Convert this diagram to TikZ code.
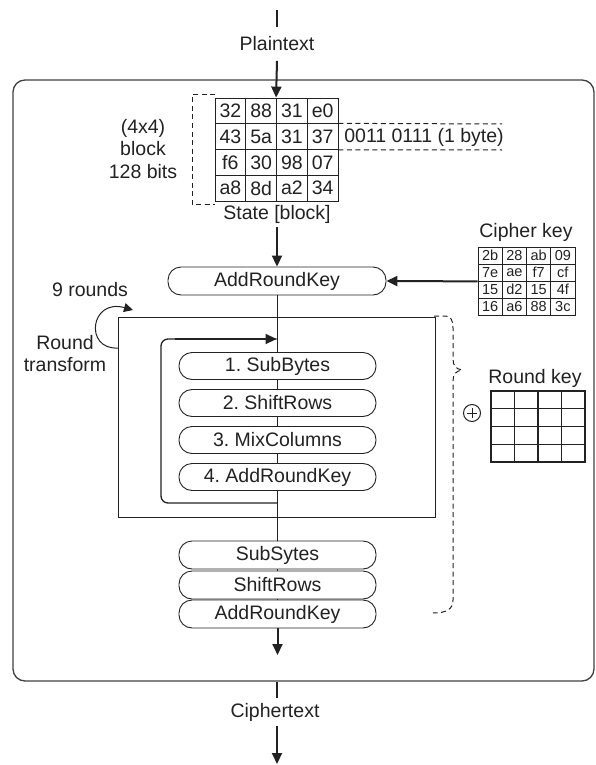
\documentclass[tikz,border=0pt]{standalone}
\usepackage{fontspec}
\setmainfont{Liberation Sans}
\usetikzlibrary{arrows.meta}
\definecolor{ink}{HTML}{222222}
\frenchspacing
\begin{document}
\begin{tikzpicture}[x=1pt,y=-1pt,
  txt/.style={font=\fontsize{19.5}{22.5}\selectfont, text=ink, inner sep=0pt, align=center},
  stepbox/.style={draw=ink, rounded corners=13pt, minimum width=197pt, minimum height=27pt, inner sep=0pt, font=\fontsize{19.5}{22}\selectfont, text=ink, line width=0.9pt},
  scell/.style={draw=ink, minimum width=30.75pt, minimum height=25.75pt, inner sep=0pt, font=\fontsize{19.5}{22}\selectfont, text=ink, line width=0.8pt},
  kcell/.style={draw=ink, minimum width=24.25pt, minimum height=17pt, inner sep=0pt, font=\fontsize{14.5}{15}\selectfont, text=ink, line width=0.8pt},
  rcell/.style={draw=ink, minimum width=23.5pt, minimum height=17.75pt, inner sep=0pt, line width=1.1pt},
  arr/.style={-{Triangle[width=10pt,length=11pt]}, line width=2pt, draw=ink},
  link/.style={line width=1pt, draw=ink},
  dashln/.style={dashed, dash pattern=on 5pt off 3.5pt, line width=1pt, draw=ink},
]
\useasboundingbox (0,0) rectangle (596,765);

% outer frame
\node[draw=black!75, line width=1.3pt, rounded corners=12pt, minimum width=581pt, minimum height=601pt, inner sep=0pt] (outer) at (303.5,380.5) {};

% plaintext
\coordinate (pt0) at (277,10);
\node[txt, inner ysep=9.5pt] (plain) at (277,44) {Plaintext};
\draw[line width=2.6pt, draw=ink] (pt0) -- (plain.north);

% state grid
\foreach \v [count=\c] in {32,88,31,e0} \node[scell] (s-1-\c) at ({215+(\c-0.5)*30.75},{98+0.5*25.75}) {\v};
\foreach \v [count=\c] in {43,5a,31,37} \node[scell] (s-2-\c) at ({215+(\c-0.5)*30.75},{98+1.5*25.75}) {\v};
\foreach \v [count=\c] in {f6,30,98,07} \node[scell] (s-3-\c) at ({215+(\c-0.5)*30.75},{98+2.5*25.75}) {\v};
\foreach \v [count=\c] in {a8,8d,a2,34} \node[scell] (s-4-\c) at ({215+(\c-0.5)*30.75},{98+3.5*25.75}) {\v};
\draw[arr] (plain.south) -- (s-1-3.north west);

% left bracket and label
\coordinate (lb1) at (215,95);
\coordinate (lb2) at (192,95);
\coordinate (lb3) at (192,204);
\coordinate (lb4) at (215,204);
\draw[dashln] (lb1) -- (lb2) -- (lb3) -- (lb4);
\node[txt] (blk) at (143,149) {(4x4)\\block\\128 bits};

% byte bracket
\coordinate (bb1) at (502,124);
\coordinate (bb2) at (502,150);
\draw[dashln] (s-2-4.north east) -- (bb1);
\draw[dashln] (s-2-4.south east) -- (bb2);
\node[txt] (byte) at (424,137) {0011 0111 (1 byte)};

\node[txt, inner ysep=4pt] (statelbl) at (277,214) {State [block]};

% first AddRoundKey
\node[stepbox, minimum width=218pt, minimum height=28pt] (ark) at (277,281) {AddRoundKey};
\draw[arr] (statelbl.south -| ark.north) -- (ark.north);

% cipher key
\node[txt] (cklbl) at (526,232) {Cipher key};
\foreach \v [count=\c] in {2b,28,ab,09} \node[kcell] (k-1-\c) at ({478+(\c-0.5)*24.25},{247+0.5*17}) {\v};
\foreach \v [count=\c] in {7e,ae,f7,cf} \node[kcell] (k-2-\c) at ({478+(\c-0.5)*24.25},{247+1.5*17}) {\v};
\foreach \v [count=\c] in {15,d2,15,4f} \node[kcell] (k-3-\c) at ({478+(\c-0.5)*24.25},{247+2.5*17}) {\v};
\foreach \v [count=\c] in {16,a6,88,3c} \node[kcell] (k-4-\c) at ({478+(\c-0.5)*24.25},{247+3.5*17}) {\v};
\draw[arr] (k-2-1.south west) -- (ark.east);

% round loop box
\node[draw=ink, line width=1pt, minimum width=317pt, minimum height=200pt, inner sep=0pt] (loop) at (276.5,417) {};
\node[txt] (nine) at (90,290) {9 rounds};
\node[txt] (rt) at (65,353.5) {Round\\transform};
\coordinate (la) at (118,348);
\coordinate (lb) at (133,310);
\draw[-{Triangle[width=9pt,length=9pt]}, line width=1pt, draw=ink] (la) .. controls (84,350) and (90,298) .. (lb);

% steps
\node[stepbox] (b1) at (277.5,366) {1. SubBytes};
\node[stepbox] (b2) at (277.5,403) {2. ShiftRows};
\node[stepbox] (b3) at (277.5,440) {3. MixColumns};
\node[stepbox] (b4) at (277.5,477) {4. AddRoundKey};

\node[stepbox, minimum height=28pt] (f1) at (277.5,555) {SubSytes};
\node[stepbox, minimum height=28pt] (f2) at (277.5,585) {ShiftRows};
\node[stepbox, minimum height=28pt] (f3) at (277.5,614) {AddRoundKey};

\draw[link] (ark.south -| b1.north) -- (b1.north);
\draw[link] (b1) -- (b2);
\draw[link] (b2) -- (b3);
\draw[link] (b3) -- (b4);
\draw[link] (b4.south) -- (f1.north);
\draw[link] (f1) -- (f2);
\draw[link] (f2) -- (f3);
\coordinate (fend) at (277.5,655);
\draw[arr] (f3.south) -- (fend);

% inner loop arrow
\coordinate (lj) at (277.5,503);
\coordinate (lc1) at (161,503);
\coordinate (lc2) at (161,339);
\coordinate (lc3) at (276.5,339);
\draw[line width=1.3pt, draw=ink, rounded corners=7pt] (lj) -- (lc1) -- (lc2) -- (lc3);
\draw[line width=2.2pt, draw=ink, -{Triangle[width=10pt,length=11pt]}] (175,339) -- (lc3);

% right brace
\coordinate (br0) at (434,316);
\coordinate (br1) at (433,613);
\draw[dashln] (br0) -- (444,316) .. controls (451,316) and (453,320) .. (453,328) -- (453,359)
  .. controls (453,366) and (456,369) .. (462,370)
  .. controls (456,371) and (453,374) .. (453,381) -- (453,600)
  .. controls (453,609) and (447,613) .. (br1);

% round key
\node[draw=ink, circle, line width=1pt, minimum size=17pt, inner sep=0pt] (xor) at (472,413) {};
\draw[line width=1pt, draw=ink] ([xshift=-5pt]xor.center) -- ([xshift=5pt]xor.center);
\draw[line width=1pt, draw=ink] ([yshift=-5pt]xor.center) -- ([yshift=5pt]xor.center);
\node[txt] (rklbl) at (535,378) {Round key};
\foreach \r in {1,...,4} \foreach \c in {1,...,4}
  \node[rcell] (r-\r-\c) at ({491+(\c-0.5)*23.5},{391+(\r-0.5)*17.75}) {};

% ciphertext
\coordinate (ct0) at (277,682);
\node[txt, inner ysep=5pt] (cipher) at (275,712) {Ciphertext};
\coordinate (ct1) at (277,764);
\draw[line width=2.6pt, draw=ink] (ct0) -- (cipher.north -| ct0);
\draw[arr] (cipher.south -| ct1) -- (ct1);
\end{tikzpicture}
\end{document}
